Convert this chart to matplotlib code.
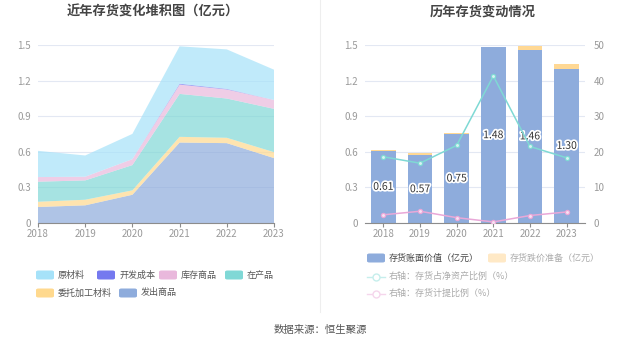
import matplotlib
matplotlib.use("Agg")
import matplotlib.pyplot as plt
import matplotlib.patheffects as pe
from matplotlib.patches import FancyBboxPatch
from matplotlib.lines import Line2D
import numpy as np

plt.rcParams['font.family'] = ['Noto Sans CJK SC', 'DejaVu Sans']

years = ['2018', '2019', '2020', '2021', '2022', '2023']

# stacked inventory composition (亿元), bottom -> top
fachu = [0.135, 0.149, 0.238, 0.678, 0.673, 0.547]      # 发出商品
weituo = [0.044, 0.047, 0.037, 0.048, 0.045, 0.050]     # 委托加工材料
zaichan = [0.169, 0.163, 0.213, 0.362, 0.331, 0.365]    # 在产品
kucun = [0.039, 0.031, 0.050, 0.078, 0.076, 0.075]      # 库存商品
kaifa = [0.0, 0.0, 0.0, 0.008, 0.005, 0.0]              # 开发成本
yuancl = [0.221, 0.179, 0.213, 0.315, 0.333, 0.255]     # 原材料

# right chart
book_value = [0.61, 0.57, 0.75, 1.48, 1.46, 1.30]
provision = [0.007, 0.016, 0.007, 0.004, 0.034, 0.043]
asset_ratio = [18.6, 16.8, 21.8, 41.3, 21.5, 18.3]
prov_ratio = [2.3, 3.3, 1.5, 0.3, 2.1, 3.1]

c_yuan = '#a6e2f9'
c_kaifa = '#7579ef'
c_kucun = '#e9b8dc'
c_zai = '#80d8d6'
c_wei = '#ffd98e'
c_fachu = '#8eacdc'
c_prov = '#ffd894'
c_line1 = '#7fd9d4'
c_line2 = '#e9a8d8'
grid_c = '#e3e8f3'
tick_c = '#9a9a9a'

W, H = 637, 344
fig = plt.figure(figsize=(6.37, 3.44), dpi=100)

def fx(px):
    return px / W

def fy(py):
    return 1 - py / H

x = np.arange(len(years))

# ---------------- left chart ----------------
ax1 = fig.add_axes([fx(38), fy(223), fx(274) - fx(38), fy(45) - fy(223)])
ax1.stackplot(x, fachu, weituo, zaichan, kucun, kaifa, yuancl,
              colors=[c_fachu, c_wei, c_zai, c_kucun, c_kaifa, c_yuan],
              alpha=0.7, linewidth=0)
ax1.set_xlim(0, 5)
ax1.set_ylim(0, 1.5)
yt = [0, 0.3, 0.6, 0.9, 1.2, 1.5]
ax1.set_yticks(yt)
ax1.set_yticklabels(['0', '0.3', '0.6', '0.9', '1.2', '1.5'])
ax1.set_xticks(x)
ax1.set_xticklabels(years)
ax1.grid(axis='y', color=grid_c, lw=0.8)
ax1.set_axisbelow(True)
for s in ['top', 'right', 'left']:
    ax1.spines[s].set_visible(False)
ax1.spines['bottom'].set_color('#8c8c8c')
ax1.tick_params(axis='y', length=0, pad=5, labelsize=7, labelcolor=tick_c)
ax1.tick_params(axis='x', length=3, color='#8c8c8c', pad=1, labelsize=7, labelcolor=tick_c)
fig.text(fx(153), fy(12), '近年存货变化堆积图（亿元）', ha='center', va='center',
         fontsize=9.5, fontweight='bold', color='#444444')

# ---------------- right chart ----------------
ax2 = fig.add_axes([fx(365), fy(223), fx(585) - fx(365), fy(45) - fy(223)])
ax2.bar(x, book_value, width=0.68, color=c_fachu, zorder=2)
ax2.bar(x, provision, width=0.68, bottom=book_value, color=c_prov, zorder=2)
for xi, v in zip(x, book_value):
    ax2.text(xi, v / 2, f'{v:.2f}', ha='center', va='center', fontsize=7.5,
             color='#333333', zorder=5,
             path_effects=[pe.withStroke(linewidth=2.5, foreground='white')])
ax2.set_xlim(-0.5, 5.5)
ax2.set_ylim(0, 1.5)
ax2.set_yticks(yt)
ax2.set_yticklabels(['0', '0.3', '0.6', '0.9', '1.2', '1.5'])
ax2.set_xticks(x)
ax2.set_xticklabels(years)
ax2.grid(axis='y', color=grid_c, lw=0.8)
ax2.set_axisbelow(True)
for s in ['top', 'right', 'left']:
    ax2.spines[s].set_visible(False)
ax2.spines['bottom'].set_color('#8c8c8c')
ax2.tick_params(axis='y', length=0, pad=5, labelsize=7, labelcolor=tick_c)
ax2.tick_params(axis='x', length=3, color='#8c8c8c', pad=1, labelsize=7, labelcolor=tick_c)

ax3 = ax2.twinx()
ax3.plot(x, asset_ratio, color=c_line1, lw=1.1, marker='o', ms=3,
         mfc='#d8f4f2', mec=c_line1, mew=0.9, zorder=4)
ax3.plot(x, prov_ratio, color=c_line2, lw=1.1, marker='o', ms=3,
         mfc='#f8e2f2', mec=c_line2, mew=0.9, zorder=4)
ax3.set_ylim(0, 50)
ax3.set_yticks([0, 10, 20, 30, 40, 50])
for s in ['top', 'right', 'left', 'bottom']:
    ax3.spines[s].set_visible(False)
ax3.tick_params(axis='y', length=0, pad=6, labelsize=7, labelcolor=tick_c)
fig.text(fx(483), fy(12), '历年存货变动情况', ha='center', va='center',
         fontsize=9.5, fontweight='bold', color='#444444')

# divider
fig.add_artist(Line2D([fx(320), fx(320)], [fy(0), fy(312)], color='#eeeeee', lw=0.8))

# ---------------- legends ----------------
def patch_item(px, py, color, label, tcolor='#555555'):
    fig.add_artist(FancyBboxPatch((fx(px), fy(py + 4.5)), fx(18), 9 / H,
                                  boxstyle='round,pad=0,rounding_size=0.004',
                                  fc=color, ec='none',
                                  transform=fig.transFigure))
    fig.text(fx(px + 22), fy(py), label, ha='left', va='center',
             fontsize=6.5, color=tcolor)

def line_item(px, py, color, label, tcolor='#aaaaaa'):
    fig.add_artist(Line2D([fx(px), fx(px + 18)], [fy(py), fy(py)], color=color,
                          lw=1.0, transform=fig.transFigure))
    fig.add_artist(Line2D([fx(px + 9)], [fy(py)], lw=0, marker='o', ms=5,
                          mfc='white', mec=color, mew=1.0,
                          transform=fig.transFigure))
    fig.text(fx(px + 22), fy(py), label, ha='left', va='center',
             fontsize=6.5, color=tcolor)

patch_item(36, 275, c_yuan, '原材料')
patch_item(97, 275, c_kaifa, '开发成本')
patch_item(159, 275, c_kucun, '库存商品')
patch_item(225, 275, c_zai, '在产品')
patch_item(36, 293, c_wei, '委托加工材料')
patch_item(119, 293, c_fachu, '发出商品')

patch_item(367, 258, c_fachu, '存货账面价值（亿元）', tcolor='#444444')
patch_item(488, 258, '#ffe9c6', '存货跌价准备（亿元）', tcolor='#aaaaaa')
line_item(367, 276.5, '#c6eeec', '右轴：存货占净资产比例（%）')
line_item(367, 293.5, '#f5d6ec', '右轴：存货计提比例（%）')

fig.text(fx(320), fy(330), '数据来源：恒生聚源', ha='center', va='center',
         fontsize=7.5, color='#555555')

fig.savefig('out.png', dpi=100)
